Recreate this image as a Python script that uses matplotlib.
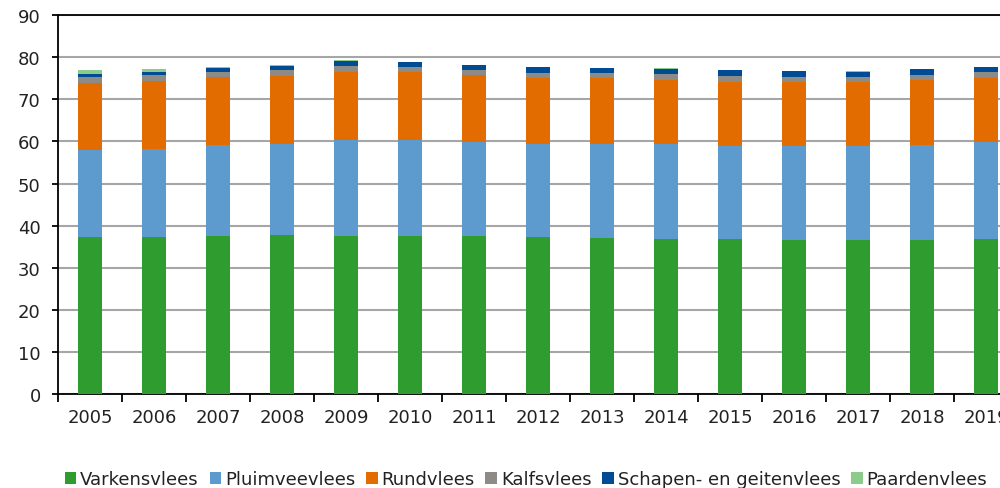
import matplotlib
matplotlib.use("Agg")
import matplotlib.pyplot as plt
import numpy as np

years = ["2005", "2006", "2007", "2008", "2009", "2010", "2011", "2012",
         "2013", "2014", "2015", "2016", "2017", "2018", "2019"]
varkensvlees = [37.2, 37.4, 37.6, 37.9, 37.6, 37.6, 37.6, 37.35, 37.1, 36.8, 36.8, 36.6, 36.6, 36.7, 36.9]
pluimveevlees = [20.7, 20.9, 21.6, 21.5, 22.7, 22.7, 22.3, 22.05, 22.25, 22.55, 22.2, 22.35, 22.3, 22.4, 22.9]
rundvlees = [16.1, 16.1, 16.0, 16.2, 16.3, 16.3, 15.9, 15.6, 15.65, 15.35, 15.2, 15.15, 15.2, 15.4, 15.3]
kalfsvlees = [1.2, 1.3, 1.3, 1.3, 1.3, 1.2, 1.1, 1.3, 1.3, 1.3, 1.3, 1.3, 1.2, 1.3, 1.4]
schapen_geitenvlees = [0.9, 0.9, 1.0, 1.1, 1.3, 1.1, 1.3, 1.3, 1.2, 1.3, 1.4, 1.4, 1.3, 1.3, 1.2]
paardenvlees = [0.8, 0.6, 0.3, 0.05, 0.04, 0.04, 0.04, 0.04, 0.04, 0.04, 0.04, 0.04, 0.04, 0.04, 0.04]

series = [
    ("Varkensvlees", varkensvlees, "#2F9C2F"),
    ("Pluimveevlees", pluimveevlees, "#5D9ACD"),
    ("Rundvlees", rundvlees, "#E36C00"),
    ("Kalfsvlees", kalfsvlees, "#8E8A86"),
    ("Schapen- en geitenvlees", schapen_geitenvlees, "#004C94"),
    ("Paardenvlees", paardenvlees, "#8DCB8D"),
]

plt.rcParams['font.family'] = ['DejaVu Sans']
fig = plt.figure(figsize=(10, 4.89), dpi=100)
ax = fig.add_axes([0.058, 0.192, 0.96, 0.775])

x = np.arange(len(years))
bottom = np.zeros(len(years))
for name, vals, col in series:
    ax.bar(x, vals, width=0.39, bottom=bottom, color=col, label=name, zorder=3)
    bottom += np.array(vals)

ax.set_xlim(-0.5, len(years) - 0.5)
ax.set_ylim(0, 90)
ax.set_yticks(np.arange(0, 91, 10))
ax.yaxis.grid(True, color="#A6A6A6", linewidth=1.5, zorder=0)
ax.set_axisbelow(True)

ax.set_xticks(x)
ax.set_xticklabels(years, fontsize=13, color="#222222")
ax.set_xticks(np.arange(-0.5, len(years), 1), minor=True)
ax.tick_params(axis='x', which='major', length=0, pad=10)
ax.tick_params(axis='x', which='minor', length=6, width=1.3, direction='out')
ax.tick_params(axis='y', length=4.5, width=1.3, direction='out', labelsize=13,
               labelcolor="#222222", pad=8)

for s in ["left", "bottom", "top"]:
    ax.spines[s].set_color("black")
    ax.spines[s].set_linewidth(1.3)
ax.spines["right"].set_visible(False)

fig.legend(loc='center', bbox_to_anchor=(0.526, 0.018), ncol=6, frameon=False,
           fontsize=13, handlelength=0.65, handleheight=0.65, handletextpad=0.2,
           columnspacing=0.6, labelcolor="#222222")

fig.savefig("out.png", dpi=100)
